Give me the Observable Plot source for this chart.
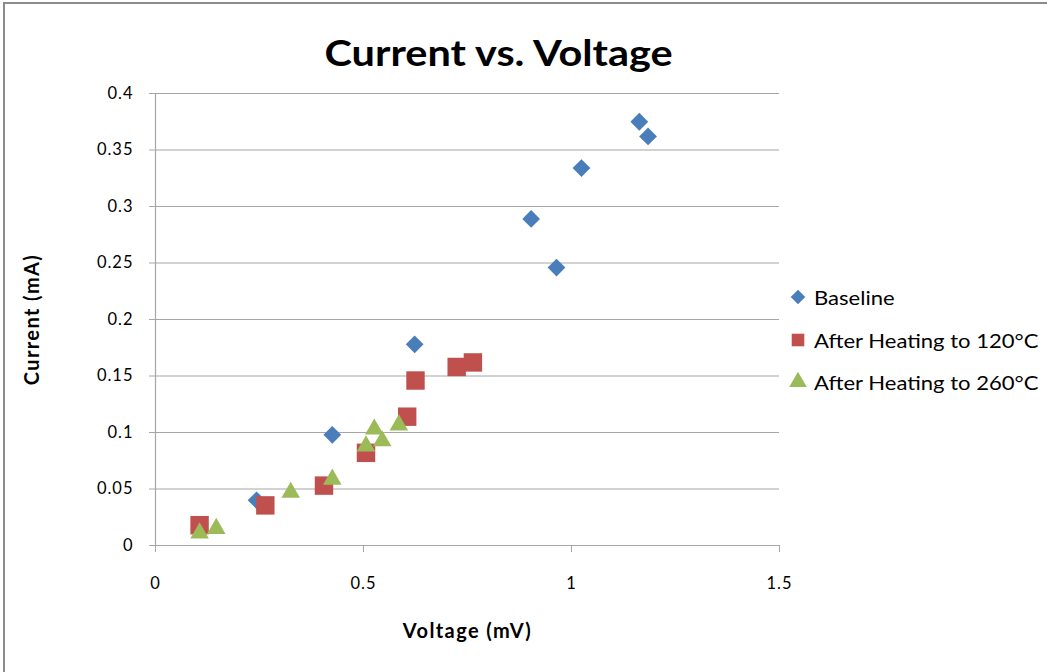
<!DOCTYPE html>
<html>
<head>
<meta charset="utf-8">
<script src="https://cdn.jsdelivr.net/npm/d3@7"></script>
<script src="https://cdn.jsdelivr.net/npm/@observablehq/plot@0.6"></script>
<style>
  html, body { margin: 0; padding: 0; background: #fff; }
  #wrap { position: relative; width: 1047px; height: 672px; overflow: hidden; font-family: Lato, "DejaVu Sans", sans-serif; }
  #frame { position: absolute; left: 3px; top: 2px; width: 1100px; height: 700px; border-left: 2px solid #8c8c8c; border-top: 2px solid #8c8c8c; box-sizing: border-box; }
  #title { position: absolute; left: 0; width: 997px; top: 29px; text-align: center; font-weight: bold; font-size: 37px; color: #000; transform: scaleX(1.12); transform-origin: 498px 0; }
  #chart { position: absolute; left: 0; top: 0; }
  .leg { position: absolute; left: 788px; font-size: 19px; color: #000; display: flex; align-items: center; white-space: nowrap; }
  .leg svg { margin-right: 6px; }
  .leg span { display: inline-block; transform: scaleX(1.16); transform-origin: 0 50%; }
  #chart g[aria-label="y-axis tick label"] text,
  #chart g[aria-label="x-axis tick label"] text { letter-spacing: 1px; }
  #chart g[aria-label="text"] text { letter-spacing: 1.4px; }
</style>
</head>
<body>
<div id="wrap">
  <div id="frame"></div>
  <div id="chart"></div>
  <div id="title">Current vs. Voltage</div>
  <div id="legend"></div>
</div>
<script>
const seriesNames = ["Baseline", "After Heating to 120°C", "After Heating to 260°C"];
const seriesColors = ["#4a7ebb", "#c0504d", "#9bbb59"];
const seriesSymbols = ["diamond2", "square", "triangle"];

const baselineV = [0.243, 0.425, 0.623, 0.903, 0.964, 1.024, 1.163, 1.184];
const baselineI = [0.040, 0.098, 0.178, 0.289, 0.246, 0.334, 0.375, 0.362];

const heat120V = [0.106, 0.264, 0.405, 0.506, 0.605, 0.625, 0.724, 0.763];
const heat120I = [0.018, 0.0355, 0.053, 0.082, 0.114, 0.146, 0.158, 0.162];

const heat260V = [0.106, 0.146, 0.325, 0.425, 0.506, 0.526, 0.545, 0.585];
const heat260I = [0.011, 0.015, 0.047, 0.0586, 0.088, 0.103, 0.0926, 0.1066];

const xTicks = [0, 0.5, 1, 1.5];
const yTicks = [0, 0.05, 0.1, 0.15, 0.2, 0.25, 0.3, 0.35, 0.4];

const xLabel = "Voltage (mV)";
const yLabel = "Current (mA)";

const mk = (vs, is, s) => vs.map((v, k) => ({v, i: is[k], s}));
const data = [
  ...mk(baselineV, baselineI, seriesNames[0]),
  ...mk(heat120V, heat120I, seriesNames[1]),
  ...mk(heat260V, heat260I, seriesNames[2])
];
const radii = [8, 10.4, 6.9];

const fmt = d => String(+d.toFixed(2));

const marks = [
  Plot.ruleY(yTicks, {stroke: "#a6a6a6", strokeWidth: 1.2}),
  Plot.ruleX([0], {y1: 0, y2: 0.4, stroke: "#a6a6a6", strokeWidth: 1.2}),
  Plot.axisY({ticks: yTicks, tickFormat: fmt, tickSize: 6, tickPadding: 16, stroke: "#a6a6a6", label: null, fontSize: 16.5}),
  Plot.axisX({ticks: xTicks, tickFormat: fmt, tickSize: 7, tickPadding: 25, stroke: "#a6a6a6", label: null, fontSize: 16.5}),
];
seriesNames.forEach((name, k) => {
  marks.push(Plot.dot(data.filter(d => d.s === name), {
    x: "v", y: "i", symbol: () => seriesSymbols[k], fill: seriesColors[k], stroke: "none", r: radii[k]
  }));
});
marks.push(Plot.text([xLabel], {frameAnchor: "bottom", dy: 92, fontWeight: "bold", fontSize: 20, textAnchor: "middle"}));
marks.push(Plot.text([yLabel], {frameAnchor: "left", dx: -123, rotate: -90, fontWeight: "bold", fontSize: 20, textAnchor: "middle"}));

const chart = Plot.plot({
  width: 1047,
  height: 672,
  marginLeft: 155,
  marginRight: 268,
  marginTop: 93,
  marginBottom: 127,
  style: {fontFamily: "Lato, 'DejaVu Sans', sans-serif", fontSize: "16px", color: "#000", background: "transparent", overflow: "visible"},
  x: {domain: [0, 1.5]},
  y: {domain: [0, 0.4]},
  symbol: {type: "identity"},
  marks
});
document.getElementById("chart").appendChild(chart);

const legend = document.getElementById("legend");
const legTops = [297, 340, 382];
seriesNames.forEach((name, k) => {
  const div = document.createElement("div");
  div.className = "leg";
  div.style.top = (legTops[k] - 12) + "px";
  const sym = d3.symbol(k === 0 ? d3.symbolDiamond2 : k === 1 ? d3.symbolSquare : d3.symbolTriangle, k === 1 ? 220 : 150)();
  div.innerHTML = `<svg width="20" height="24" viewBox="-10 -12 20 24"><path d="${sym}" fill="${seriesColors[k]}" transform="scale(${k===1?0.85:0.95})"/></svg><span>${name}</span>`;
  legend.appendChild(div);
});
</script>
</body>
</html>
